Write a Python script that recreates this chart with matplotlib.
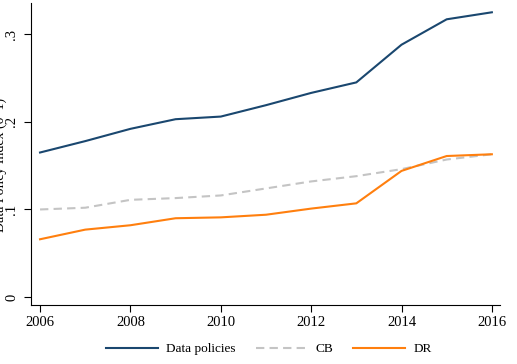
import matplotlib
matplotlib.use("Agg")
import matplotlib.pyplot as plt

years = [2006, 2007, 2008, 2009, 2010, 2011, 2012, 2013, 2014, 2015, 2016]
data_policies = [0.165, 0.178, 0.192, 0.203, 0.206, 0.219, 0.233, 0.245, 0.288, 0.317, 0.325]
cb = [0.100, 0.102, 0.111, 0.113, 0.116, 0.124, 0.132, 0.138, 0.146, 0.157, 0.163]
dr = [0.066, 0.077, 0.082, 0.090, 0.091, 0.094, 0.101, 0.107, 0.144, 0.161, 0.163]
xticks = [2006, 2008, 2010, 2012, 2014, 2016]
yticks = [0, 0.1, 0.2, 0.3]
yticklabels = ["0", ".1", ".2", ".3"]

plt.rcParams['font.family'] = ['Liberation Serif', 'DejaVu Serif']

fig = plt.figure(figsize=(5.17, 3.64), dpi=100)
ax = fig.add_axes([31/517, 1-305/364, (500-31)/517, (305-3)/364])

l1, = ax.plot(years, data_policies, color='#1a476f', lw=1.5, label='Data policies')
l2, = ax.plot(years, cb, color='#c4c4c4', lw=1.5, ls=(0, (4, 2.5)), label='CB')
l3, = ax.plot(years, dr, color='#ff7f0e', lw=1.5, label='DR')

ax.set_xlim(2005.8, 2016.18)
ax.set_ylim(-0.009, 0.3356)
ax.set_xticks(xticks)
ax.set_yticks(yticks)
ax.set_yticklabels(yticklabels, rotation=90, va='center')
ax.tick_params(axis='both', labelsize=10.5, length=5, width=0.8, color='black')
ax.tick_params(axis='y', pad=4)
ax.tick_params(axis='x', pad=3)
ax.spines['top'].set_visible(False)
ax.spines['right'].set_visible(False)

fig.text(7/517, 1-165/364, "Data Policy Index (0\u20131)", rotation=90, ha='right', va='center', fontsize=10)

fig.legend(handles=[l1, l2, l3], loc='center', bbox_to_anchor=(0.52, 1-349/364), ncol=3,
           frameon=False, fontsize=9.5, handlelength=3.95, handletextpad=0.6, columnspacing=1.5)

fig.savefig("out.png", dpi=100)
